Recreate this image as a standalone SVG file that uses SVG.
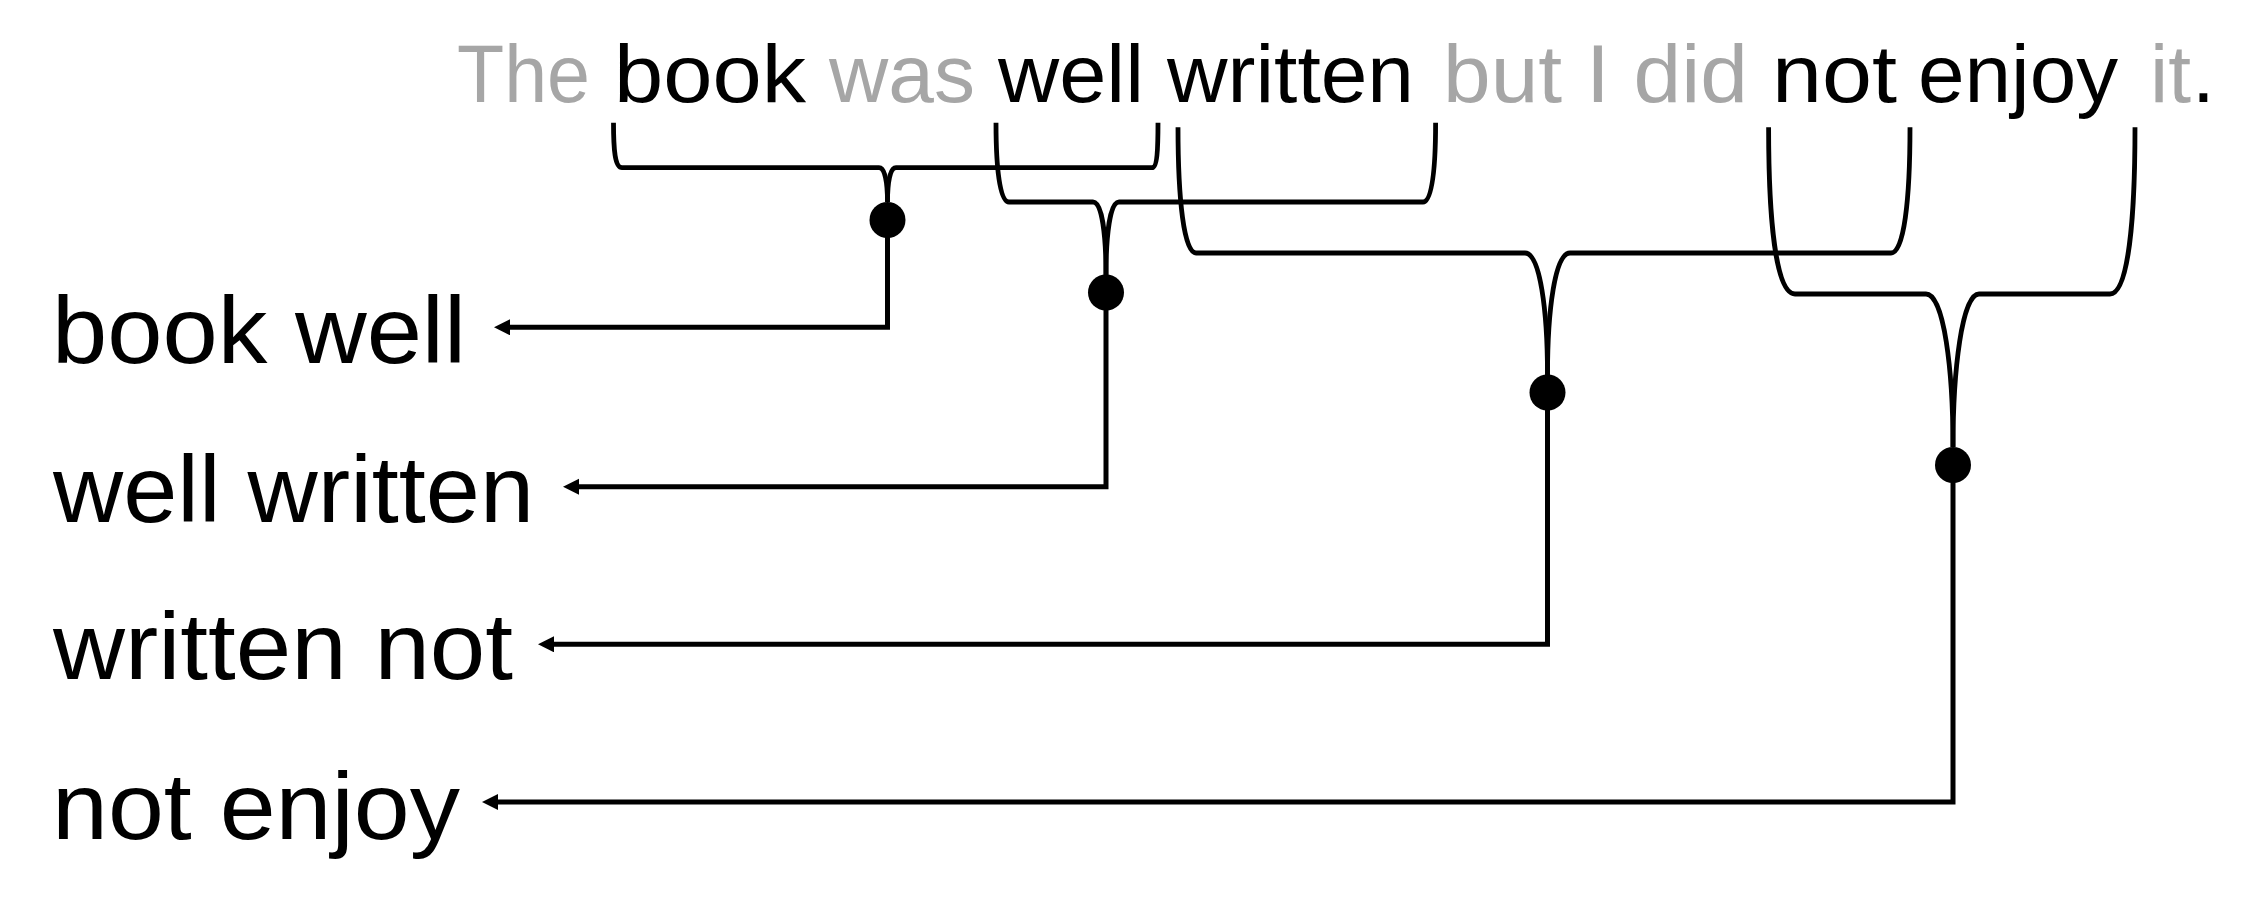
<svg xmlns="http://www.w3.org/2000/svg" width="2261" height="911" viewBox="0 0 2261 911">
<style>
  .w { font-family: "Liberation Sans", Arial, sans-serif; font-size: 82px; }
  .k { fill: #000; }
  .g { fill: #a6a6a6; }
  .lbl { font-family: "Liberation Sans", Arial, sans-serif; font-size: 94px; fill: #000; }
  .br { fill: none; stroke: #000; stroke-width: 4.8; stroke-linejoin: round; }
  .ar { fill: none; stroke: #000; stroke-width: 5; stroke-linejoin: miter; marker-end: url(#ah); }
  .dot { fill: #000; }
</style>
<defs>
  <marker id="ah" markerUnits="userSpaceOnUse" markerWidth="18" markerHeight="18" refX="3" refY="8" orient="auto">
    <path d="M0,0 L16,8 L0,16 z" fill="#000"/>
  </marker>
</defs>
<rect width="2261" height="911" fill="#fff"/>
<g id="sentence">
  <text class="w g" x="457" y="102" textLength="133" lengthAdjust="spacingAndGlyphs">The</text>
  <text class="w k" x="614" y="102" textLength="192" lengthAdjust="spacingAndGlyphs">book</text>
  <text class="w g" x="829" y="102" textLength="146" lengthAdjust="spacingAndGlyphs">was</text>
  <text class="w k" x="998" y="102" textLength="146" lengthAdjust="spacingAndGlyphs">well</text>
  <text class="w k" x="1167" y="102" textLength="247" lengthAdjust="spacingAndGlyphs">written</text>
  <text class="w g" x="1443" y="102" textLength="305" lengthAdjust="spacingAndGlyphs">but I did</text>
  <text class="w k" x="1772" y="102" textLength="125" lengthAdjust="spacingAndGlyphs">not</text>
  <text class="w k" x="1918" y="102" textLength="200" lengthAdjust="spacingAndGlyphs">enjoy</text>
  <text class="w g" x="2150" y="102">it</text>
  <text class="w k" x="2192" y="102">.</text>
</g>
<g id="label-book-well"><text class="lbl" x="52" y="363" textLength="414" lengthAdjust="spacingAndGlyphs">book well</text></g>
<g id="label-well-written"><text class="lbl" x="53" y="522" textLength="481" lengthAdjust="spacingAndGlyphs">well written</text></g>
<g id="label-written-not"><text class="lbl" x="53" y="679" textLength="460" lengthAdjust="spacingAndGlyphs">written not</text></g>
<g id="label-not-enjoy"><text class="lbl" x="52" y="839" textLength="408" lengthAdjust="spacingAndGlyphs">not enjoy</text></g>
<g id="connectors">
  <!-- bracket 1: book - well -->
  <path class="br" d="M613.5,122.7 C613.5,150 615,167.7 622,167.7 L879,167.7 C885,167.7 887.5,182 887.5,202"/>
  <path class="br" d="M1158,122.7 C1158,150 1157,167.7 1152,167.7 L896,167.7 C890,167.7 887.5,182 887.5,202"/>
  <!-- bracket 2: well - written -->
  <path class="br" d="M996,122.7 C996,170 1000,202 1009,202 L1093,202 C1102,202 1106,235 1106,275"/>
  <path class="br" d="M1435.6,122.7 C1435.6,170 1432,202 1423,202 L1119,202 C1110,202 1106,235 1106,275"/>
  <!-- bracket 3: written - not -->
  <path class="br" d="M1178,127.3 C1178,200 1184,253 1196,253 L1525,253 C1540,253 1547.5,310 1547.5,375"/>
  <path class="br" d="M1910,127.3 C1910,200 1904,253 1891,253 L1570,253 C1555,253 1547.5,310 1547.5,375"/>
  <!-- bracket 4: not - enjoy -->
  <path class="br" d="M1768.6,127.3 C1768.6,220 1776,294 1795,294 L1926,294 C1944,294 1953,370 1953,447"/>
  <path class="br" d="M2135,127.3 C2135,220 2128,294 2110,294 L1979,294 C1962,294 1953,370 1953,447"/>
  <!-- outputs -->
  <path class="ar" d="M887.5,220 L887.5,327.3 L507,327.3"/>
  <path class="ar" d="M1106,292.5 L1106,486.7 L576,486.7"/>
  <path class="ar" d="M1547.5,392.5 L1547.5,644.3 L551,644.3"/>
  <path class="ar" d="M1953,465 L1953,802 L495,802"/>
</g>
<g id="node-1"><circle class="dot" cx="887.5" cy="220" r="18"/></g>
<g id="node-2"><circle class="dot" cx="1106" cy="292.5" r="18"/></g>
<g id="node-3"><circle class="dot" cx="1547.5" cy="392.5" r="18"/></g>
<g id="node-4"><circle class="dot" cx="1953" cy="465" r="18"/></g>
</svg>
